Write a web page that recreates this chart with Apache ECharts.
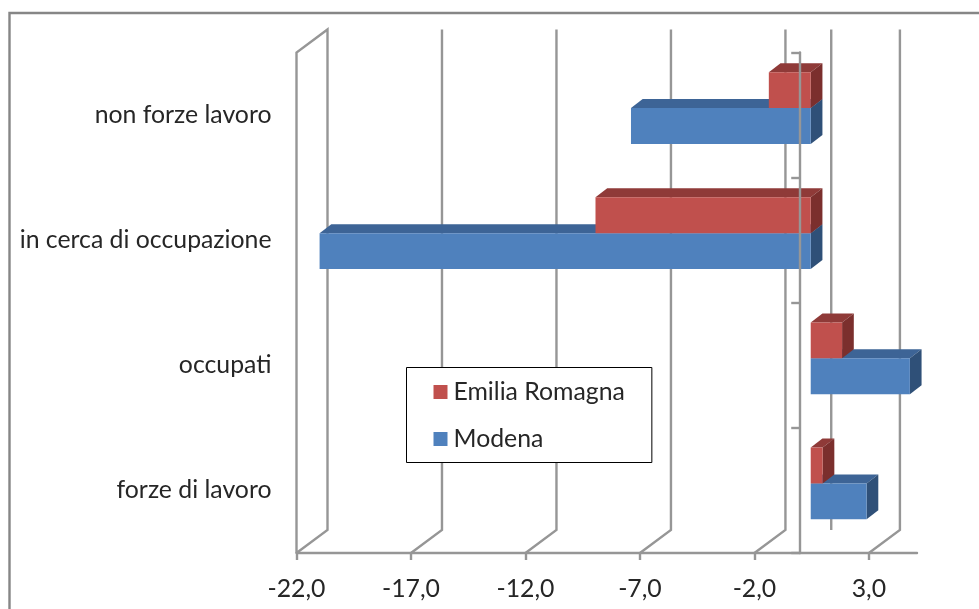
<!DOCTYPE html>
<html>
<head>
<meta charset="utf-8">
<style>html,body{margin:0;padding:0;background:#fff}#c{width:979px;height:609px}</style>
<script src="https://cdn.jsdelivr.net/npm/echarts@6/dist/echarts.min.js"></script>
</head>
<body>
<div id="c"></div>
<script>
const categories = ['forze di lavoro', 'occupati', 'in cerca di occupazione', 'non forze lavoro'];
const modena = [2.44, 4.33, -21.45, -7.85];
const emiliaRomagna = [0.52, 1.37, -9.4, -1.83];
const tickValues = [-22, -17, -12, -7, -2, 3];

const FONT = 'Lato';
const GREY = '#969696';
const LINE_W = 2.4;
const FRONT = [10.5, -7];   // bars sit part way into the chart's depth
const DEPTH = [11.7, -9];   // extrusion of each bar
const WALL = [31, -23];     // depth of the back wall
const BAR_H = 0.287;        // bar thickness as share of a category band

function barRenderer(colors, above) {
  return function (params, api) {
    const v = api.value(0), c = api.value(1);
    const a = api.coord([0, c]), b = api.coord([v, c]);
    const h = api.size([0, 1])[1] * BAR_H;
    const y0 = a[1] + FRONT[1] + (above ? -h : 0);
    const y1 = y0 + h;
    const xl = Math.min(a[0], b[0]) + FRONT[0];
    const xr = Math.max(a[0], b[0]) + FRONT[0];
    const dx = DEPTH[0], dy = DEPTH[1];
    const poly = (pts, fill) => ({
      type: 'polygon', shape: { points: pts },
      style: { fill: fill, stroke: null }
    });
    return {
      type: 'group',
      children: [
        poly([[xl, y0], [xl + dx, y0 + dy], [xr + dx, y0 + dy], [xr, y0]], colors.top),
        poly([[xr, y0], [xr + dx, y0 + dy], [xr + dx, y1 + dy], [xr, y1]], colors.side),
        poly([[xl, y0], [xr, y0], [xr, y1], [xl, y1]], colors.front)
      ]
    };
  };
}

function wallRenderer(params, api) {
  const v = api.value(0);
  const bottomCat = api.coord([v, 0]);
  const band = api.size([0, 1])[1];
  const topCat = api.coord([v, categories.length - 1]);
  const x = bottomCat[0];
  const yb = bottomCat[1] + band / 2;
  const yt = topCat[1] - band / 2;
  const line = { stroke: GREY, lineWidth: LINE_W, fill: null };
  let pts;
  if (v === tickValues[0]) {
    pts = [[x, yb], [x, yt], [x + WALL[0], yt + WALL[1]], [x + WALL[0], yb + WALL[1]], [x, yb]];
  } else if (v === 0) {
    pts = [[x + WALL[0], yt + WALL[1]], [x + WALL[0], yb + WALL[1]]];
  } else {
    pts = [[x, yb], [x + WALL[0], yb + WALL[1]], [x + WALL[0], yt + WALL[1]]];
  }
  return { type: 'polyline', shape: { points: pts }, style: line, silent: true };
}

const chart = echarts.init(document.getElementById('c'), null, { renderer: 'canvas' });
chart.setOption({
  animation: false,
  backgroundColor: '#fff',
  textStyle: { fontFamily: FONT },
  graphic: [{
    type: 'rect', silent: true, z: -1,
    shape: { x: 9.5, y: 13, width: 1100, height: 800 },
    style: { fill: null, stroke: '#868686', lineWidth: 2.4 }
  }],
  grid: { left: 296.5, right: 62, top: 52.5, bottom: 56, containLabel: false },
  legend: {
    orient: 'vertical',
    left: 406.5, top: 367.5,
    data: ['Emilia Romagna', 'Modena'],
    icon: 'rect',
    itemWidth: 14, itemHeight: 14, itemGap: 20,
    padding: [11, 27, 10, 27],
    backgroundColor: '#fff',
    borderColor: '#000', borderWidth: 1,
    textStyle: { fontFamily: FONT, fontSize: 24.8, color: '#262626', padding: [1, 0, 0, 1], lineHeight: 26 },
    selectedMode: false
  },
  xAxis: {
    type: 'value', min: -22, max: 5.1, interval: 5,
    splitLine: { show: false },
    axisLine: { show: true, onZero: false, lineStyle: { color: GREY, width: LINE_W } },
    axisTick: { show: true, length: 7, customValues: tickValues, lineStyle: { color: GREY, width: LINE_W } },
    axisLabel: {
      customValues: tickValues,
      margin: 24, fontFamily: FONT, fontSize: 24.8, color: '#262626',
      formatter: v => Number(v).toFixed(1).replace('.', ',')
    }
  },
  yAxis: [{
    type: 'category', data: categories, position: 'left',
    axisLine: { show: false, onZero: false },
    axisTick: { show: false },
    axisLabel: { margin: 25, lineHeight: 26, padding: [4, 0, 0, 0], fontFamily: FONT, fontSize: 24.8, color: '#262626' }
  }, {
    type: 'category', data: categories, position: 'left', z: 10,
    axisLine: { show: true, onZero: true, lineStyle: { color: GREY, width: LINE_W } },
    axisTick: { show: true, length: 9, lineStyle: { color: GREY, width: LINE_W } },
    axisLabel: { show: false }
  }],
  series: [{
    name: 'walls', type: 'custom', z: 1, silent: true,
    xAxisIndex: 0, yAxisIndex: 0,
    clip: false,
    renderItem: wallRenderer,
    encode: { x: 0, y: 1 },
    data: tickValues.concat([0]).map(v => [v, 0])
  }, {
    name: 'Modena', type: 'custom', z: 2,
    xAxisIndex: 0, yAxisIndex: 0, clip: false,
    itemStyle: { color: '#4F81BD' },
    renderItem: barRenderer({ front: '#4F81BD', top: '#3D6496', side: '#2F5078' }, false),
    encode: { x: 0, y: 1 },
    data: modena.map((v, i) => [v, i])
  }, {
    name: 'Emilia Romagna', type: 'custom', z: 3,
    xAxisIndex: 0, yAxisIndex: 0, clip: false,
    itemStyle: { color: '#C0504D' },
    renderItem: barRenderer({ front: '#C0504D', top: '#8F3A38', side: '#7B2F2D' }, true),
    encode: { x: 0, y: 1 },
    data: emiliaRomagna.map((v, i) => [v, i])
  }]
});
</script>
</body>
</html>
